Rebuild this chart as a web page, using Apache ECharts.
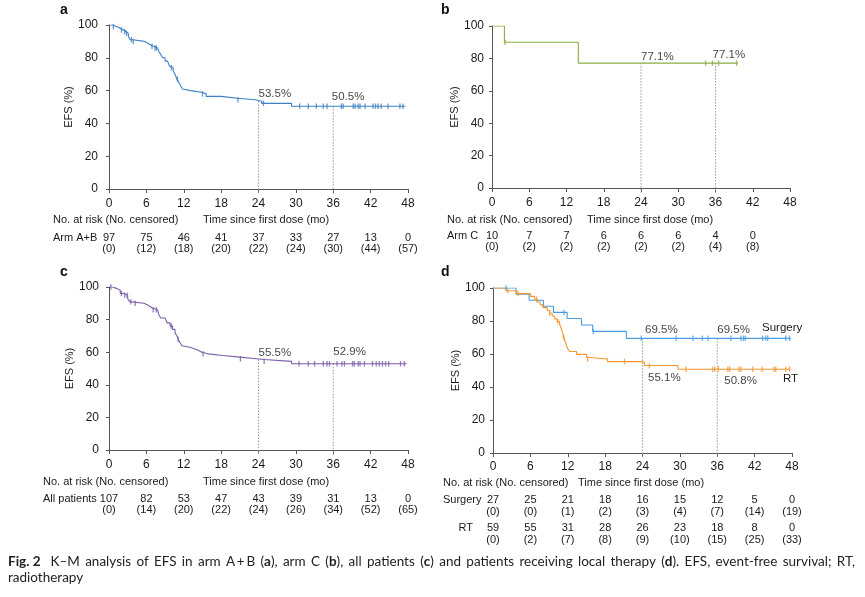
<!DOCTYPE html>
<html>
<head>
<meta charset="utf-8">
<script src="https://cdn.jsdelivr.net/npm/echarts@6.0.0/dist/echarts.min.js"></script>
<style>
  html, body { margin: 0; padding: 0; background: #fff; }
  #chart { width: 865px; height: 597px; }
</style>
</head>
<body>
<div id="chart"></div>
<script>
// ---- data ----
const timeTicks = [0, 6, 12, 18, 24, 30, 36, 42, 48]
const landmarks = [24, 36]

// a: arm A+B  [month, EFS %] (value after each event)
const survA = [[0,100],[0.6,99],[1.3,98],[1.8,97],[2.3,96],[2.7,95],[3.1,93],[3.4,91],[3.8,90],
  [5.7,89],[6.2,88],[6.6,87],[7.1,86],[7.8,85],[8.0,84],[8.3,82],[8.6,80],[9.0,78],[9.4,77],
  [9.7,75],[10.0,74],[10.3,72],[10.6,70],[10.9,67],[11.2,65],[11.5,63],[11.8,61],[12.0,60],
  [13.1,59],[14.9,58],[15.6,56.5],[18.0,55.3],[20.6,54.4],[23.5,53.5],[24.5,52.2],[29.3,50.5],[47.6,50.5]]
const censA = [0.7,2.0,2.5,2.8,3.6,3.9,6.9,7.4,7.6,10.0,11.0,15.0,20.7,24.8,30.6,32.0,33.3,34.4,35.0,
  37.3,37.6,39.2,39.5,40.0,40.3,41.1,42.4,42.8,43.2,43.7,44.8,46.7,47.2]
const riskA = [97, 75, 46, 41, 37, 33, 27, 13, 0]
const censoredA = [0, 12, 18, 20, 22, 24, 30, 44, 57]
const pctA = [53.5, 50.5]

// b: arm C
const survB = [[0,100],[2.0,90],[13.9,77.1],[39.6,77.1]]
const censB = [2.1, 34.4, 35.5, 36.5, 39.4]
const riskB = [10, 7, 7, 6, 6, 6, 4, 0]
const censoredB = [0, 2, 2, 2, 2, 2, 4, 8]
const pctB = [77.1, 77.1]

// c: all patients
const survC = [[0,100],[0.6,99],[1.3,98],[1.8,96],[2.4,95],[3.0,93],[3.3,91],[3.6,90],[5.6,89],
  [6.2,88],[6.6,87],[7.0,86],[7.8,85],[8.0,83],[8.3,81],[9.0,80],[9.3,78],[9.8,76],[10.2,74],
  [10.6,72],[10.9,70],[11.1,68],[11.4,66],[11.7,64],[12.0,63],[13.0,62],[13.8,61],[14.4,60],
  [14.9,59],[15.9,58],[18.3,57],[21.0,56],[23.6,55.5],[24.9,54.4],[29.3,52.9],[47.8,52.9]]
const censC = [0.3,2.0,2.5,2.9,3.5,4.2,7.1,7.6,10.0,11.1,15.1,21.1,24.9,30.5,32.0,33.0,34.4,35.0,35.4,
  36.6,37.4,37.8,39.1,39.4,40.0,40.3,41.0,42.3,42.9,43.4,43.9,44.4,44.9,46.8,47.4]
const riskC = [107, 82, 53, 47, 43, 39, 31, 13, 0]
const censoredC = [0, 14, 20, 22, 24, 26, 34, 52, 65]
const pctC = [55.5, 52.9]

// d: local therapy, surgery vs RT
const survS = [[0,100],[3.7,96.3],[5.8,92.6],[8.1,88.9],[9.7,85.2],[11.9,81.5],[14.2,77.6],
  [16.0,73.7],[21.4,69.5],[47.8,69.5]]
const censS = [2.1,11.4,16.1,23.8,29.4,32.1,33.6,34.5,38.2,39.8,40.2,40.5,43.3,43.8,44.1,47.0,47.6]
const riskS = [27, 25, 21, 18, 16, 15, 12, 5, 0]
const censoredS = [0, 0, 1, 2, 3, 4, 7, 14, 19]
const pctS = [69.5, 69.5]

const survR = [[0,100],[2.1,98.3],[3.7,96.6],[6.0,94.9],[6.7,93.2],[7.1,91.5],[7.6,89.8],[8.0,88.1],
  [8.7,86.4],[9.1,84.7],[9.5,83.0],[9.9,81.3],[10.3,79.6],[10.7,77.9],[10.9,76.2],[11.0,74.5],
  [11.2,72.8],[11.3,70.0],[11.5,68.3],[11.7,66.6],[11.8,64.9],[12.0,63.2],[12.3,61.5],[13.4,59.8],
  [15.0,58.0],[15.2,57.0],[18.4,55.4],[23.8,55.1],[24.3,53.0],[29.7,50.8],[47.8,50.8]]
const censR = [2.4,4.0,7.0,9.1,10.4,11.4,15.2,21.1,25.1,31.0,35.3,35.6,36.2,37.7,38.0,39.5,39.8,
  41.7,43.2,45.1,45.4,47.0,47.6]
const riskR = [59, 55, 31, 28, 26, 23, 18, 8, 0]
const censoredR = [0, 2, 7, 8, 9, 10, 15, 25, 33]
const pctR = [55.1, 50.8]

const captionLine1 = ['{b|Fig. 2}', 'K\u2013M', 'analysis', 'of', 'EFS', 'in', 'arm', 'A\u2009+\u2009B', '({b|a}),',
  'arm', 'C', '({b|b}),', 'all', 'patients', '({b|c})', 'and', 'patients', 'receiving', 'local', 'therapy',
  '({b|d}).', 'EFS,', 'event-free', 'survival;', 'RT,']
const captionLine2 = 'radiotherapy'

// ---- styling ----
const FONT = 'Liberation Sans, Arial, sans-serif'
const TXT = '#1a1a1a'
const AXIS = '#555'
const colA = '#3f7fc3'
const colB = '#8aad45'
const colC = '#7a5ea8'
const colS = '#4a9de0'
const colR = '#f5962c'

function stepAt(curve, t) {
  let v = curve[0][1]
  curve.forEach(p => { if (p[0] <= t) v = p[1] })
  return v
}

const grids = [
  { left: 109, top: 25, width: 299, height: 164 },
  { left: 492, top: 26, width: 298, height: 162 },
  { left: 109, top: 287, width: 299, height: 163 },
  { left: 493, top: 288, width: 299, height: 165 }
]
const xOffsets = [5, 5, 5, 4]
const yOffsets = [6, 3, 5, 3]

const xAxes = []
const yAxes = []
grids.forEach((g, i) => {
  xAxes.push({
    type: 'value', gridIndex: i, min: 0, max: 48, interval: 6, offset: xOffsets[i],
    axisLine: { show: true, lineStyle: { color: AXIS, width: 1 } },
    axisTick: { show: true, length: 4, lineStyle: { color: AXIS } },
    splitLine: { show: false },
    axisLabel: { color: TXT, fontFamily: FONT, fontSize: 12, margin: 4, showMinLabel: true, showMaxLabel: true }
  })
  yAxes.push({
    type: 'value', gridIndex: i, min: 0, max: 100, interval: 20, offset: yOffsets[i],
    name: 'EFS (%)', nameLocation: 'middle', nameGap: 29,
    nameTextStyle: { color: TXT, fontFamily: FONT, fontSize: 11 },
    axisLine: { show: true, lineStyle: { color: AXIS, width: 1 } },
    axisTick: { show: true, length: 3, lineStyle: { color: AXIS } },
    splitLine: { show: false },
    axisLabel: { color: TXT, fontFamily: FONT, fontSize: 12, margin: 5 }
  })
})

// number-at-risk rows as label-only axes under each panel
function riskAxis(gridIndex, offset, risk, cens) {
  return {
    type: 'value', gridIndex, min: 0, max: 48, interval: 6, position: 'bottom', offset,
    axisLine: { show: false }, axisTick: { show: false }, splitLine: { show: false },
    axisLabel: {
      color: TXT, fontFamily: FONT, fontSize: 11, lineHeight: 11.5, margin: 5,
      showMinLabel: true, showMaxLabel: true,
      formatter: (v) => {
        const k = timeTicks.indexOf(v)
        return k < risk.length ? risk[k] + '\n(' + cens[k] + ')' : ''
      }
    }
  }
}
xAxes.push(riskAxis(0, 38, riskA, censoredA))
xAxes.push(riskAxis(1, 37, riskB, censoredB))
xAxes.push(riskAxis(2, 38, riskC, censoredC))
xAxes.push(riskAxis(3, 36.5, riskS, censoredS))
xAxes.push(riskAxis(3, 64.5, riskR, censoredR))

const pctLabel = {
  show: true, color: '#111', fontFamily: FONT, fontSize: 11.5, align: 'left',
  formatter: (d) => d.value[1].toFixed(1) + '%'
}

const series = []
function addCurve(i, curve, cens, color) {
  series.push({
    type: 'line', xAxisIndex: i, yAxisIndex: i, step: 'end', data: curve,
    showSymbol: false, symbol: 'none', z: 3,
    lineStyle: { color, width: 1.1 }
  })
  series.push({
    type: 'scatter', xAxisIndex: i, yAxisIndex: i, z: 4,
    data: cens.map(t => [t, stepAt(curve, t)]),
    symbol: 'rect', symbolSize: [1.3, 5.5],
    itemStyle: { color }
  })
}
function addLandmarks(i, topCurve, pcts, labelCfg) {
  landmarks.forEach(t => {
    series.push({
      type: 'line', xAxisIndex: i, yAxisIndex: i, clip: false, z: 2,
      data: [[t, stepAt(topCurve, t)], [t, -3]],
      showSymbol: false, symbol: 'none',
      lineStyle: { color: '#9a9a9a', width: 1, type: [1.5, 1.5] }
    })
  })
  series.push({
    type: 'scatter', xAxisIndex: i, yAxisIndex: i, z: 5, symbolSize: 0,
    data: pcts.map((p, k) => ({ value: [landmarks[k], p], label: labelCfg[k] })),
    label: pctLabel
  })
}

addCurve(0, survA, censA, colA)
addLandmarks(0, survA, pctA, [
  { position: 'top', distance: 1.5, offset: [0, 0] },
  { position: 'top', distance: 3, offset: [-1.5, 0] }
])
addCurve(1, survB, censB, colB)
addLandmarks(1, survB, pctB, [
  { position: 'top', distance: 0.5, offset: [0, 0] },
  { position: 'top', distance: 2, offset: [-3, 0] }
])
addCurve(2, survC, censC, colC)
addLandmarks(2, survC, pctC, [
  { position: 'top', distance: 1.2, offset: [0, 0] },
  { position: 'top', distance: 5.5, offset: [0, 0] }
])
addCurve(3, survS, censS, colS)
addCurve(3, survR, censR, colR)
addLandmarks(3, survS, pctS, [
  { position: 'top', distance: 2.4, offset: [2.5, 0] },
  { position: 'top', distance: 2.4, offset: [0, 0] }
])
// RT landmark values printed below its curve
series.push({
  type: 'scatter', xAxisIndex: 3, yAxisIndex: 3, z: 5, symbolSize: 0,
  data: pctR.map((p, k) => ({
    value: [landmarks[k], p],
    label: { position: 'bottom', distance: k === 0 ? 10 : 6, offset: [k === 0 ? 5.5 : 7, 0] }
  })),
  label: pctLabel
})

// static text
function txt(x, y, text, size, align) {
  return {
    type: 'text', x, y, silent: true,
    style: { text, fill: TXT, font: (size || 11) + 'px ' + FONT, verticalAlign: 'middle', align: align || 'left' }
  }
}
function letter(x, y, text) {
  return {
    type: 'text', x, y, silent: true,
    style: { text, fill: '#111', font: 'bold 14px ' + FONT, verticalAlign: 'middle', align: 'left' }
  }
}
const riskTitle = 'No. at risk (No. censored)'
const timeTitle = 'Time since first dose (mo)'
const graphics = [
  letter(60, 10, 'a'), letter(441, 10, 'b'), letter(60, 272, 'c'), letter(441, 272, 'd'),
  txt(53, 220, riskTitle), txt(203, 220, timeTitle), txt(53, 237.5, 'Arm A+B'),
  txt(447, 220, riskTitle), txt(587, 220, timeTitle), txt(447, 236, 'Arm C'),
  txt(43, 482, riskTitle), txt(203, 482, timeTitle), txt(43, 499, 'All patients'),
  txt(443, 483, riskTitle), txt(578, 483, timeTitle), txt(443, 500, 'Surgery'),
  txt(473, 528, 'RT', 11, 'right'),
  txt(762, 328, 'Surgery', 11.5), txt(783, 379, 'RT', 11.5)
]

// caption: first line justified across the page width like the journal layout
const CAP_SIZE = 13.5
const capRich = { b: { fontFamily: 'Lato', fontSize: CAP_SIZE, fontWeight: 'bold', fill: '#222' } }
const ctx = document.createElement('canvas').getContext('2d')
function wordWidth(w) {
  let width = 0
  w.split(/(\{b\|[^}]*\})/).forEach(part => {
    if (!part) return
    const m = part.match(/^\{b\|([^}]*)\}$/)
    ctx.font = (m ? 'bold ' : '') + CAP_SIZE + 'px Lato'
    width += ctx.measureText(m ? m[1] : part).width
  })
  return width
}
const capLeft = 8, capRight = 855, firstGap = 10
const widths = captionLine1.map(wordWidth)
const total = widths.reduce((a, b) => a + b, 0)
const gap = (capRight - capLeft - total - firstGap) / (captionLine1.length - 2)
let cx = capLeft
captionLine1.forEach((w, k) => {
  graphics.push({
    type: 'text', x: cx, y: 562, silent: true,
    style: { text: w, fill: '#222', fontFamily: 'Lato', fontSize: CAP_SIZE, verticalAlign: 'middle', align: 'left', rich: capRich }
  })
  cx += widths[k] + (k === 0 ? firstGap : gap)
})
graphics.push({
  type: 'text', x: capLeft, y: 578, silent: true,
  style: { text: captionLine2, fill: '#222', fontFamily: 'Lato', fontSize: CAP_SIZE, verticalAlign: 'middle', align: 'left' }
})

const myChart = echarts.init(document.getElementById('chart'), null, { renderer: 'canvas' })
myChart.setOption({
  animation: false,
  backgroundColor: '#fff',
  grid: grids.map(g => Object.assign({ containLabel: false, outerBoundsMode: 'none' }, g)),
  xAxis: xAxes,
  yAxis: yAxes,
  series,
  graphic: graphics
})
</script>
</body>
</html>
